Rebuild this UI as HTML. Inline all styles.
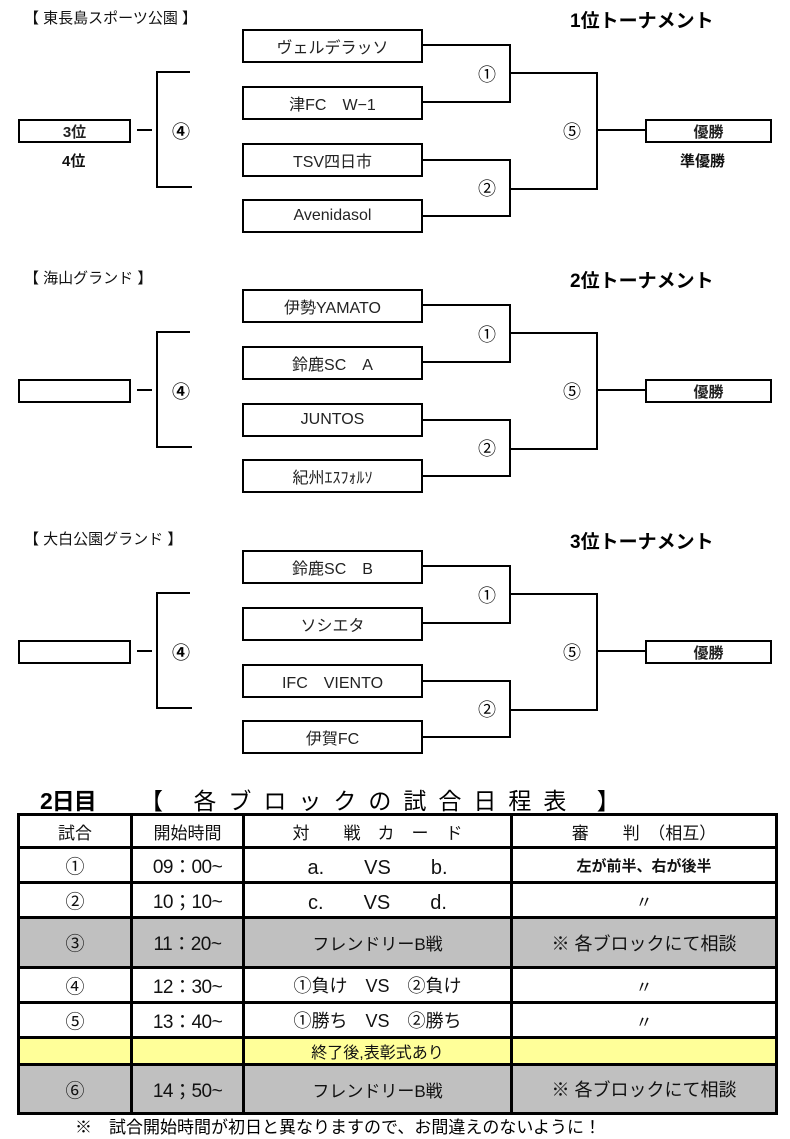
<!DOCTYPE html>
<html><head><meta charset="utf-8"><style>
body{margin:0;width:790px;height:1139px;background:#fff;position:relative;font-family:"Liberation Sans","Noto Sans CJK JP",sans-serif;overflow:hidden}
.a{position:absolute}
.box{position:absolute;border:2px solid #000;box-sizing:border-box;display:flex;align-items:center;justify-content:center;font-size:16px;color:#222}
.t{position:absolute;font-size:15px;color:#111}
.h{position:absolute;font-size:19px;font-weight:bold}
.c{position:absolute;font-size:18px;transform:translate(-50%,-50%)}
table{position:absolute;left:17px;top:813px;width:761px;border-collapse:collapse;border:3px solid #000;table-layout:fixed}
td{border:3px solid #000;text-align:center;font-size:17px;padding:0;color:#111}
.g td{background:#c0c0c0}
.y td{background:#ffff99}
td.n{font-size:19px}
td.tm{font-size:19px;letter-spacing:-0.5px}
</style></head><body>
<svg class="a" style="left:0;top:0" width="790" height="800" fill="none" stroke="#000" stroke-width="2">
<g id="b">
<path d="M423 45H510V102H423M423 160H510V216H423M510 73H597V189H510M597 130H645M137 130H152M190 72H157V187H192"/>
</g>
<use href="#b" y="260"/>
<use href="#b" y="521"/>
</svg>

<div class="t" style="left:24px;top:7px">【 東長島スポーツ公園 】</div>
<div class="h" style="left:570px;top:6px">1位トーナメント</div>
<div class="box" style="left:242px;top:29px;width:181px;height:34px">ヴェルデラッソ</div>
<div class="box" style="left:242px;top:86px;width:181px;height:34px">津FC　W−1</div>
<div class="box" style="left:242px;top:143px;width:181px;height:34px">TSV四日市</div>
<div class="box" style="left:242px;top:199px;width:181px;height:34px">Avenidasol</div>
<div class="box" style="left:18px;top:119px;width:113px;height:24px;font-weight:bold;font-size:15px">3位</div>
<div class="t" style="left:62px;top:150px;font-weight:bold">4位</div>
<div class="box" style="left:645px;top:119px;width:127px;height:24px;font-weight:bold;font-size:15px">優勝</div>
<div class="t" style="left:680px;top:150px;font-weight:bold">準優勝</div>
<div class="c" style="left:487px;top:74px">①</div><div class="c" style="left:487px;top:188px">②</div>
<div class="c" style="left:572px;top:131px">⑤</div><div class="c" style="left:181px;top:131px;font-weight:bold">④</div>

<div class="t" style="left:24px;top:267px">【 海山グランド 】</div>
<div class="h" style="left:570px;top:266px">2位トーナメント</div>
<div class="box" style="left:242px;top:289px;width:181px;height:34px">伊勢YAMATO</div>
<div class="box" style="left:242px;top:346px;width:181px;height:34px">鈴鹿SC　A</div>
<div class="box" style="left:242px;top:403px;width:181px;height:34px">JUNTOS</div>
<div class="box" style="left:242px;top:459px;width:181px;height:34px">紀州ｴｽﾌｫﾙｿ</div>
<div class="box" style="left:18px;top:379px;width:113px;height:24px"></div>
<div class="box" style="left:645px;top:379px;width:127px;height:24px;font-weight:bold;font-size:15px">優勝</div>
<div class="c" style="left:487px;top:334px">①</div><div class="c" style="left:487px;top:448px">②</div>
<div class="c" style="left:572px;top:391px">⑤</div><div class="c" style="left:181px;top:391px;font-weight:bold">④</div>

<div class="t" style="left:24px;top:528px">【 大白公園グランド 】</div>
<div class="h" style="left:570px;top:527px">3位トーナメント</div>
<div class="box" style="left:242px;top:550px;width:181px;height:34px">鈴鹿SC　B</div>
<div class="box" style="left:242px;top:607px;width:181px;height:34px">ソシエタ</div>
<div class="box" style="left:242px;top:664px;width:181px;height:34px">IFC　VIENTO</div>
<div class="box" style="left:242px;top:720px;width:181px;height:34px">伊賀FC</div>
<div class="box" style="left:18px;top:640px;width:113px;height:24px"></div>
<div class="box" style="left:645px;top:640px;width:127px;height:24px;font-weight:bold;font-size:15px">優勝</div>
<div class="c" style="left:487px;top:595px">①</div><div class="c" style="left:487px;top:709px">②</div>
<div class="c" style="left:572px;top:652px">⑤</div><div class="c" style="left:181px;top:652px;font-weight:bold">④</div>

<div class="a" style="left:40px;top:782px;font-size:23px;font-weight:bold;letter-spacing:-1px">2日目</div>
<div class="a" style="left:140px;top:782px;font-size:23px;letter-spacing:12px">【 各ブロックの試合日程表 】</div>

<table>
<colgroup><col style="width:113px"><col style="width:112px"><col style="width:268px"><col></colgroup>
<tr style="height:33px"><td>試合</td><td>開始時間</td><td>対　　戦　カ　ー　ド</td><td>審　　判　（相互）</td></tr>
<tr style="height:35px"><td class="n">①</td><td class="tm">09：00~</td><td style="font-size:20px">a.　　VS　　b.</td><td style="font-size:15px;font-weight:bold">左が前半、右が後半</td></tr>
<tr style="height:35px"><td class="n">②</td><td class="tm">10；10~</td><td style="font-size:20px">c.　　VS　　d.</td><td>〃</td></tr>
<tr class="g" style="height:50px"><td class="n">③</td><td class="tm">11：20~</td><td>フレンドリーB戦</td><td style="font-size:18px">※ 各ブロックにて相談</td></tr>
<tr style="height:35px"><td class="n">④</td><td class="tm">12：30~</td><td style="font-size:18px">①負け　VS　②負け</td><td>〃</td></tr>
<tr style="height:35px"><td class="n">⑤</td><td class="tm">13：40~</td><td style="font-size:18px">①勝ち　VS　②勝ち</td><td>〃</td></tr>
<tr class="y" style="height:23px"><td></td><td></td><td style="font-size:16px">終了後,表彰式あり</td><td></td></tr>
<tr class="g" style="height:49px"><td class="n">⑥</td><td class="tm">14；50~</td><td>フレンドリーB戦</td><td style="font-size:18px">※ 各ブロックにて相談</td></tr>
</table>
<div class="a" style="left:75px;top:1113px;font-size:17px">※　試合開始時間が初日と異なりますので、お間違えのないように！</div>
</body></html>
